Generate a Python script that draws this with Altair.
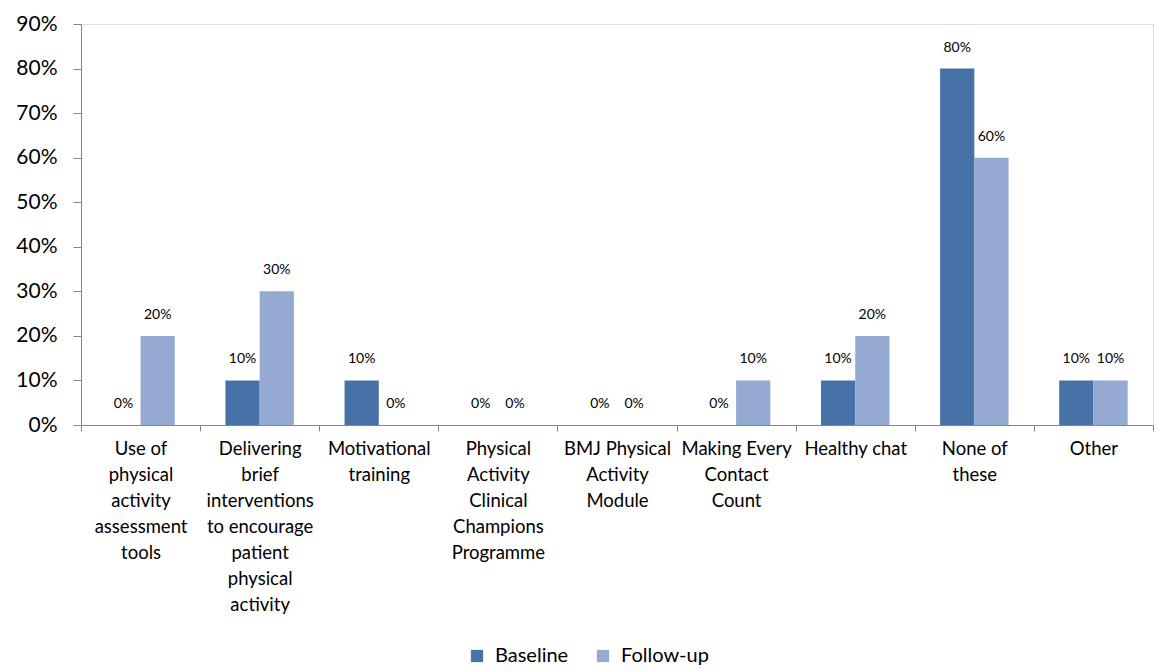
import altair as alt
import pandas as pd

categories = [
    "Use of\nphysical\nactivity\nassessment\ntools",
    "Delivering\nbrief\ninterventions\nto encourage\npatient\nphysical\nactivity",
    "Motivational\ntraining",
    "Physical\nActivity\nClinical\nChampions\nProgramme",
    "BMJ Physical\nActivity\nModule",
    "Making Every\nContact\nCount",
    "Healthy chat",
    "None of\nthese",
    "Other",
]
series = ["Baseline", "Follow-up"]
baseline = [0.0, 0.10, 0.10, 0.0, 0.0, 0.0, 0.10, 0.80, 0.10]
followup = [0.20, 0.30, 0.0, 0.0, 0.0, 0.10, 0.20, 0.60, 0.10]
colors = ["#4672A8", "#95AAD2"]

rows = []
for c, b, f in zip(categories, baseline, followup):
    rows.append({"cat": c, "series": "Baseline", "value": b})
    rows.append({"cat": c, "series": "Follow-up", "value": f})
df = pd.DataFrame(rows)

FONT = "Lato"

x = alt.X(
    "cat:N",
    sort=categories,
    title=None,
    scale=alt.Scale(paddingInner=0, paddingOuter=0),
    axis=alt.Axis(
        labelAngle=0,
        labelExpr="split(datum.label, '\\n')",
        labelFontSize=18.5,
        labelLineHeight=26,
        labelFont=FONT,
        labelColor="#000000",
        labelPadding=8,
        labelBaseline="top",
        tickBand="extent",
        tickSize=6,
        tickColor="#868686",
        domainColor="#868686",
        labelLimit=300,
    ),
)
xo = alt.XOffset("series:N", sort=series, scale=alt.Scale(paddingOuter=0.74, paddingInner=0))
y = alt.Y(
    "value:Q",
    title=None,
    scale=alt.Scale(domain=[0, 0.9], nice=False),
    axis=alt.Axis(
        format=".0%",
        values=[i / 10 for i in range(10)],
        labelFontSize=21,
        labelFont=FONT,
        labelColor="#000000",
        labelPadding=16,
        tickSize=8,
        tickColor="#868686",
        domainColor="#868686",
        grid=False,
    ),
)
color = alt.Color(
    "series:N",
    sort=series,
    scale=alt.Scale(domain=series, range=colors),
    legend=alt.Legend(
        title=None,
        orient="none",
        direction="horizontal",
        legendX=386,
        legendY=622,
        symbolType="square",
        symbolSize=150,
        symbolStrokeWidth=0,
        labelFontSize=20,
        labelFont=FONT,
        labelColor="#000000",
        columnPadding=24,
        symbolOffset=0,
        labelOffset=8,
    ),
)

base = alt.Chart(df).encode(x=x, xOffset=xo)
bars = base.mark_bar().encode(y=y, color=color)
labels = base.mark_text(baseline="middle", dy=-21, fontSize=14, font=FONT, color="#000000").encode(
    y="value:Q", text=alt.Text("value:Q", format=".0%")
)

chart = (
    alt.layer(bars, labels)
    .properties(width=1072, height=401, autosize=alt.AutoSizeParams(type="none"),
                padding={"left": 81, "top": 24, "right": 2, "bottom": 245})
    .configure_view(strokeWidth=0, stroke="transparent")
    .configure(background="white")
)
chart.save("out.html", embed_options={"renderer": "svg", "actions": False})
